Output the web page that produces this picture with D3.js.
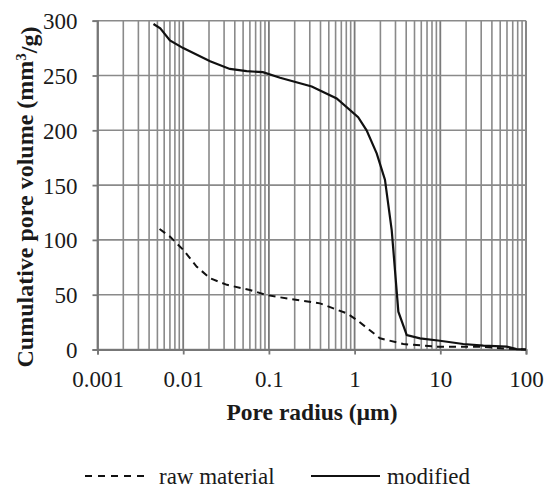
<!DOCTYPE html>
<html>
<head>
<meta charset="utf-8">
<script src="https://cdn.jsdelivr.net/npm/d3@7"></script>
<style>
  body { margin: 0; background: #fff; }
  svg { display: block; font-family: "Liberation Serif", "Times New Roman", serif; }
</style>
</head>
<body>
<div id="chart"></div>
<script>
// pore radius (µm) and cumulative pore volume (mm3/g)
var rawRadius = [0.0053, 0.007, 0.01, 0.0144, 0.0206, 0.0324, 0.06, 0.094, 0.135, 0.394, 0.81, 1.06, 1.98, 3.7, 9.1, 31.8, 54, 100];
var rawVolume = [110, 103, 91, 75.5, 65, 59, 54.3, 49.7, 47.6, 42.1, 33, 27, 10.2, 5, 2.6, 2.5, 1, 0];

var modRadius = [0.0045, 0.0054, 0.007, 0.01, 0.0206, 0.035, 0.055, 0.085, 0.135, 0.316, 0.618, 1.1, 1.38, 1.81, 2.26, 2.71, 3.24, 4.06, 5.8, 9.9, 18.5, 31.8, 59.6, 77.6, 100];
var modVolume = [297, 293, 282, 275, 263, 256, 254, 253, 248, 240, 229, 212, 200, 179, 155, 109, 34.5, 13.2, 10.2, 8, 5, 3.5, 2.6, 0.3, 0];

var xTicks = [0.001, 0.01, 0.1, 1, 10, 100];
var xTickLabels = ["0.001", "0.01", "0.1", "1", "10", "100"];
var yTicks = [0, 50, 100, 150, 200, 250, 300];

var seriesNames = ["raw material", "modified"];

var width = 546, height = 488;
var plotLeft = 97.5, plotRight = 526, plotTop = 20.7, plotBottom = 349.5;

var svg = d3.select("#chart").append("svg")
    .attr("width", width)
    .attr("height", height);

var x = d3.scaleLog().domain([0.001, 100]).range([plotLeft, plotRight]);
var y = d3.scaleLinear().domain([0, 300]).range([plotBottom, plotTop]);

var gridColor = "#8a8a8a";

// vertical grid: 2..9 within each decade
var minor = [];
for (var d = 0.001; d < 99; d *= 10) {
    for (var k = 2; k <= 9; k++) minor.push(d * k);
}
svg.append("g").selectAll("line")
    .data(minor)
    .enter().append("line")
    .attr("x1", function (v) { return x(v); })
    .attr("x2", function (v) { return x(v); })
    .attr("y1", plotTop)
    .attr("y2", plotBottom)
    .attr("stroke", gridColor)
    .attr("stroke-width", 1.6);

svg.append("g").selectAll("line")
    .data(xTicks)
    .enter().append("line")
    .attr("x1", function (v) { return x(v); })
    .attr("x2", function (v) { return x(v); })
    .attr("y1", plotTop)
    .attr("y2", plotBottom)
    .attr("stroke", "#7a7a7a")
    .attr("stroke-width", 1.8);

// horizontal grid
svg.append("g").selectAll("line")
    .data(yTicks)
    .enter().append("line")
    .attr("x1", plotLeft)
    .attr("x2", plotRight)
    .attr("y1", function (v) { return y(v); })
    .attr("y2", function (v) { return y(v); })
    .attr("stroke", gridColor)
    .attr("stroke-width", 1.6);

// axes
var xAxis = d3.axisBottom(x)
    .tickValues(xTicks)
    .tickFormat(function (v, i) { return xTickLabels[i]; })
    .tickSize(5)
    .tickPadding(16);
var gx = svg.append("g")
    .attr("transform", "translate(0," + plotBottom + ")")
    .call(xAxis);

var yAxis = d3.axisLeft(y)
    .tickValues(yTicks)
    .tickSize(5)
    .tickPadding(15);
var gy = svg.append("g")
    .attr("transform", "translate(" + plotLeft + ",0)")
    .call(yAxis);

[gx, gy].forEach(function (g) {
    g.select(".domain").attr("stroke", "#777").attr("stroke-width", 1.8);
    g.selectAll(".tick line").attr("stroke", "#777").attr("stroke-width", 1.8);
    g.selectAll("text")
        .attr("fill", "#1a1a1a")
        .style("font-family", "'Liberation Serif', serif")
        .style("font-size", "23px");
});
gy.selectAll("text").attr("dy", "0.35em");

// series
var line = d3.line()
    .x(function (d) { return x(d[0]); })
    .y(function (d) { return y(d[1]); });

var rawData = rawRadius.map(function (r, i) { return [r, rawVolume[i]]; });
var modData = modRadius.map(function (r, i) { return [r, modVolume[i]]; });

svg.append("path")
    .datum(rawData)
    .attr("d", line)
    .attr("fill", "none")
    .attr("stroke", "#111")
    .attr("stroke-width", 2)
    .attr("stroke-dasharray", "7,5");

svg.append("path")
    .datum(modData)
    .attr("d", line)
    .attr("fill", "none")
    .attr("stroke", "#111")
    .attr("stroke-width", 2.2);

// axis titles
svg.append("text")
    .attr("x", 312)
    .attr("y", 420)
    .attr("text-anchor", "middle")
    .style("font-weight", "bold")
    .style("font-size", "23.5px")
    .attr("fill", "#1a1a1a")
    .text("Pore radius (µm)");

var yTitle = svg.append("text")
    .attr("transform", "translate(33,197) rotate(-90)")
    .attr("text-anchor", "middle")
    .style("font-weight", "bold")
    .style("font-size", "24px")
    .attr("fill", "#1a1a1a");
yTitle.append("tspan").text("Cumulative pore volume (mm");
yTitle.append("tspan").attr("dy", "-0.45em").style("font-size", "15px").text("3");
yTitle.append("tspan").attr("dy", "0.45em").text("/g)");

// legend
var legend = svg.append("g");
legend.append("line")
    .attr("x1", 85).attr("x2", 150)
    .attr("y1", 476).attr("y2", 476)
    .attr("stroke", "#111").attr("stroke-width", 2)
    .attr("stroke-dasharray", "7,6");
legend.append("text")
    .attr("x", 159).attr("y", 484)
    .style("font-size", "23px")
    .attr("fill", "#1a1a1a")
    .text(seriesNames[0]);
legend.append("line")
    .attr("x1", 311).attr("x2", 380)
    .attr("y1", 476).attr("y2", 476)
    .attr("stroke", "#111").attr("stroke-width", 2.2);
legend.append("text")
    .attr("x", 387).attr("y", 484)
    .style("font-size", "23px")
    .attr("fill", "#1a1a1a")
    .text(seriesNames[1]);
</script>
</body>
</html>
